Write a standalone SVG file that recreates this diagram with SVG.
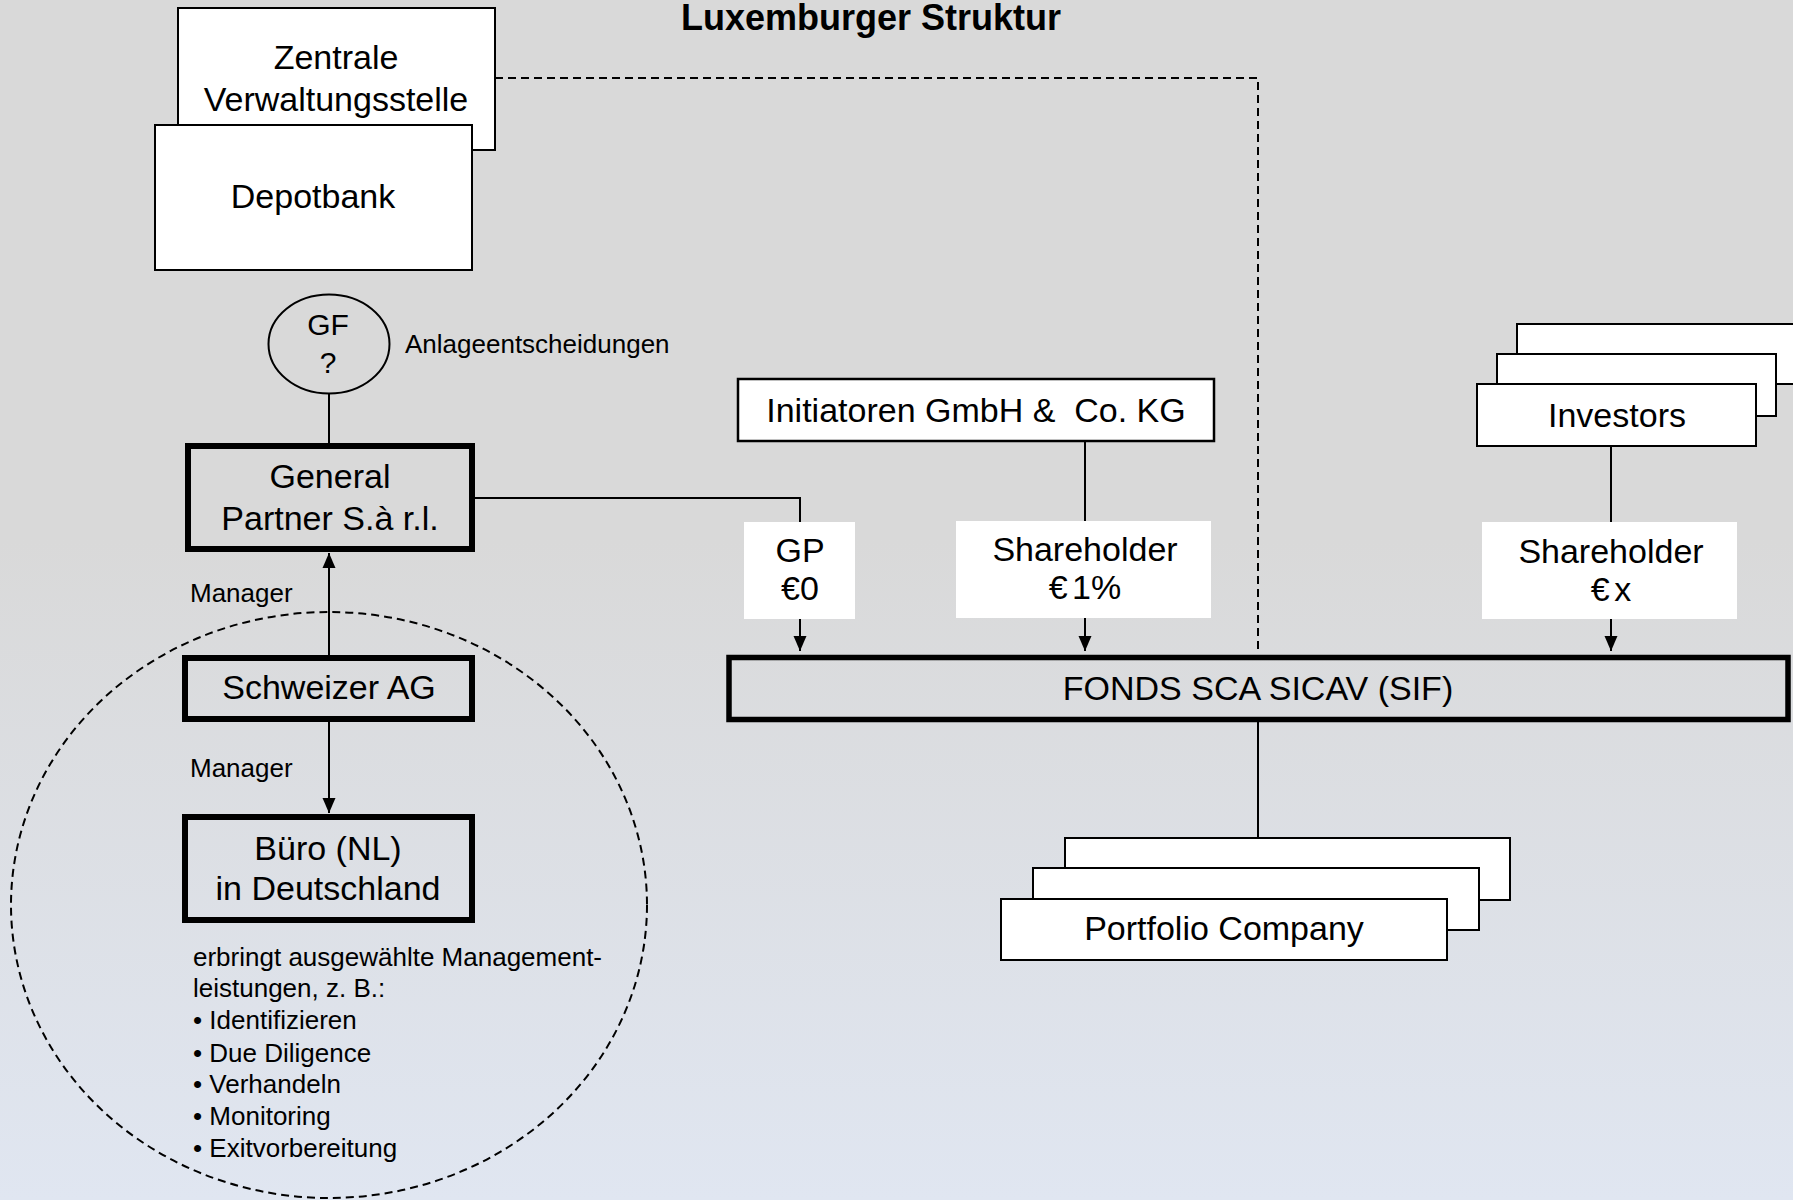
<svg xmlns="http://www.w3.org/2000/svg" width="1793" height="1200" viewBox="0 0 1793 1200">
<defs>
<linearGradient id="bg" x1="0" y1="0" x2="0" y2="1">
<stop offset="0" stop-color="#d9d9d9"/>
<stop offset="0.45" stop-color="#d9d9d9"/>
<stop offset="1" stop-color="#e0e6f1"/>
</linearGradient>
<marker id="ah" markerUnits="userSpaceOnUse" markerWidth="15" markerHeight="15" viewBox="0 0 15 15" refX="15" refY="7.5" orient="auto">
<path d="M0,1 L15,7.5 L0,14 z" fill="#000"/>
</marker>
<style>
text{font-family:"Liberation Sans",Arial,sans-serif;fill:#000}
.lg{font-size:34px;text-anchor:middle}
.sm{font-size:26px}
.box{fill:#fff;stroke:#000;stroke-width:2}
.thick{fill:none;stroke:#000;stroke-width:6}
.lbl{fill:#fff;stroke:none}
.ln{fill:none;stroke:#000;stroke-width:2}
.dash{fill:none;stroke:#000;stroke-width:2;stroke-dasharray:8 5}
</style>
</defs>
<rect x="0" y="0" width="1793" height="1200" fill="url(#bg)"/>

<text x="871" y="30" style="font-size:36px;font-weight:bold;text-anchor:middle">Luxemburger Struktur</text>

<ellipse id="scope" cx="329" cy="905" rx="318" ry="293" fill="none" stroke="#000" stroke-width="2" stroke-dasharray="8 5"/>

<g id="connectors">
<path class="dash" d="M495,78 H1258 V654"/>
<line class="ln" x1="329" y1="393" x2="329" y2="443"/>
<path class="ln" d="M475,498 H800 V522"/>
<line class="ln" x1="800" y1="619" x2="800" y2="651" marker-end="url(#ah)"/>
<line class="ln" x1="1085" y1="441" x2="1085" y2="521"/>
<line class="ln" x1="1085" y1="618" x2="1085" y2="651" marker-end="url(#ah)"/>
<line class="ln" x1="1611" y1="446" x2="1611" y2="522"/>
<line class="ln" x1="1611" y1="619" x2="1611" y2="651" marker-end="url(#ah)"/>
<line class="ln" x1="1258" y1="722" x2="1258" y2="838"/>
<line class="ln" x1="329" y1="655" x2="329" y2="553" marker-end="url(#ah)"/>
<line class="ln" x1="329" y1="722" x2="329" y2="813" marker-end="url(#ah)"/>
</g>

<g id="zentrale">
<rect class="box" x="178" y="8" width="317" height="142"/>
<text class="lg" x="336" y="69">Zentrale</text>
<text class="lg" x="336" y="111">Verwaltungsstelle</text>
</g>

<g id="depotbank">
<rect class="box" x="155" y="125" width="317" height="145"/>
<text class="lg" x="313" y="208">Depotbank</text>
</g>

<g id="gf">
<ellipse cx="329" cy="344" rx="60.5" ry="49.5" fill="none" stroke="#000" stroke-width="2"/>
<text x="328" y="335" style="font-size:30px;text-anchor:middle">GF</text>
<text x="328" y="373" style="font-size:30px;text-anchor:middle">?</text>
</g>
<text class="sm" x="405" y="353">Anlageentscheidungen</text>

<g id="general-partner">
<rect class="thick" x="188" y="446" width="284" height="103"/>
<text class="lg" x="330" y="488">General</text>
<text class="lg" x="330" y="530">Partner S.à r.l.</text>
</g>

<text class="sm" x="190" y="602">Manager</text>

<g id="schweizer-ag">
<rect class="thick" x="185" y="658" width="287" height="61"/>
<text class="lg" x="329" y="699">Schweizer AG</text>
</g>

<text class="sm" x="190" y="777">Manager</text>

<g id="buero">
<rect class="thick" x="185" y="817" width="287" height="103"/>
<text class="lg" x="328" y="860">Büro (NL)</text>
<text class="lg" x="328" y="900">in Deutschland</text>
</g>

<g id="buero-text" class="sm">
<text x="193" y="966">erbringt ausgewählte Management-</text>
<text x="193" y="997">leistungen, z. B.:</text>
<text x="193" y="1029">• Identifizieren</text>
<text x="193" y="1062">• Due Diligence</text>
<text x="193" y="1093">• Verhandeln</text>
<text x="193" y="1125">• Monitoring</text>
<text x="193" y="1157">• Exitvorbereitung</text>
</g>

<g id="initiatoren">
<rect class="box" x="738" y="379" width="476" height="62" style="stroke-width:2.5"/>
<text class="lg" x="976" y="422" style="white-space:pre">Initiatoren GmbH &amp;  Co. KG</text>
</g>

<g id="investors">
<rect class="box" x="1517" y="324" width="290" height="60"/>
<rect class="box" x="1497" y="354" width="279" height="62"/>
<rect class="box" x="1477" y="384" width="279" height="62"/>
<text class="lg" x="1617" y="427">Investors</text>
</g>

<g id="label-gp">
<rect class="lbl" x="744" y="522" width="111" height="97"/>
<text class="lg" x="800" y="562">GP</text>
<text class="lg" x="800" y="600">€0</text>
</g>

<g id="label-shareholder-1">
<rect class="lbl" x="956" y="521" width="255" height="97"/>
<text class="lg" x="1085" y="561">Shareholder</text>
<text class="lg" x="1085" y="599" style="word-spacing:-5px">€ 1%</text>
</g>

<g id="label-shareholder-x">
<rect class="lbl" x="1482" y="522" width="255" height="97"/>
<text class="lg" x="1611" y="563">Shareholder</text>
<text class="lg" x="1611" y="601" style="word-spacing:-5px">€ x</text>
</g>

<g id="fonds">
<rect x="729" y="657.5" width="1059" height="62" fill="none" stroke="#000" stroke-width="5.5"/>
<text class="lg" x="1258" y="700">FONDS SCA SICAV (SIF)</text>
</g>

<g id="portfolio">
<rect class="box" x="1065" y="838" width="445" height="62"/>
<rect class="box" x="1033" y="868" width="446" height="62"/>
<rect class="box" x="1001" y="899" width="446" height="61"/>
<text class="lg" x="1224" y="940">Portfolio Company</text>
</g>
</svg>
